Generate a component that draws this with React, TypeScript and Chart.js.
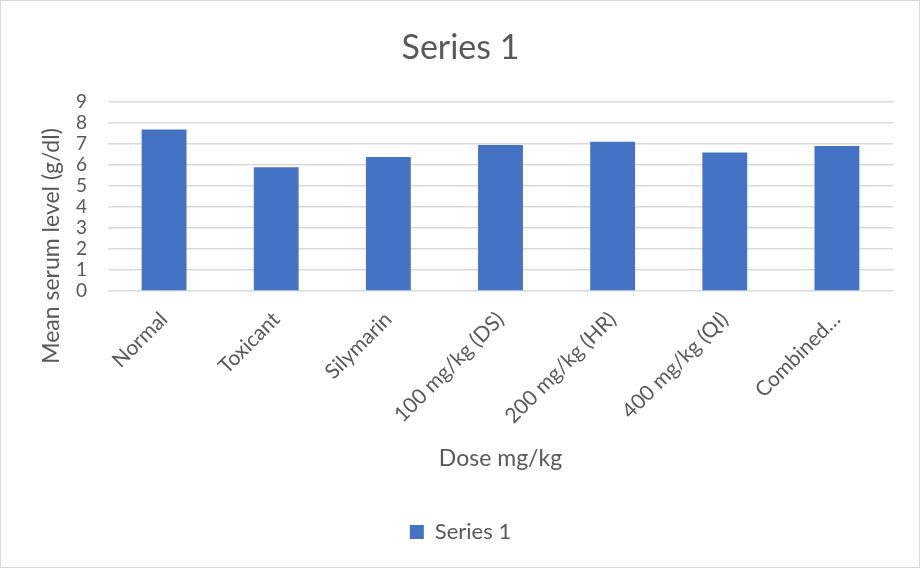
import React, { useEffect, useRef } from "react";
import { Chart, registerables } from "chart.js";

Chart.register(...registerables);

const categories = [
  "Normal",
  "Toxicant",
  "Silymarin",
  "100 mg/kg (DS)",
  "200 mg/kg (HR)",
  "400 mg/kg (QI)",
  "Combined…",
];
const seriesName = "Series 1";
const seriesValues = [7.68, 5.89, 6.37, 6.94, 7.1, 6.59, 6.9];
const yTicks = [0, 1, 2, 3, 4, 5, 6, 7, 8, 9];
const chartTitle = "Series 1";
const xTitle = "Dose mg/kg";
const yTitle = "Mean serum level (g/dl)";

const TEXT = "#595959";
const GRID = "#d9d9d9";
const BAR = "#4472c4";
const FONT = "Lato, 'Open Sans', sans-serif";

// Frame around the whole chart and the rotated y-axis title.
const decorations = {
  id: "decorations",
  beforeDraw(chart: Chart) {
    const { ctx, width, height } = chart;
    ctx.save();
    ctx.fillStyle = "#ffffff";
    ctx.fillRect(0, 0, width, height);
    ctx.strokeStyle = GRID;
    ctx.lineWidth = 1;
    ctx.strokeRect(0.5, 0.5, width - 2, height - 2);
    ctx.restore();
  },
  afterDraw(chart: Chart) {
    const { ctx } = chart;
    ctx.save();
    ctx.translate(52, 246);
    ctx.rotate(-Math.PI / 2);
    ctx.fillStyle = TEXT;
    ctx.font = `23px ${FONT}`;
    ctx.textAlign = "center";
    ctx.textBaseline = "middle";
    ctx.fillText(yTitle, 0, 0);
    ctx.restore();
  },
};

export default function App() {
  const canvasRef = useRef<HTMLCanvasElement | null>(null);

  useEffect(() => {
    document.body.style.margin = "0";
    const canvas = canvasRef.current;
    if (!canvas) return;
    const chart = new Chart(canvas, {
      type: "bar",
      data: {
        labels: categories,
        datasets: [
          {
            label: seriesName,
            data: seriesValues,
            backgroundColor: BAR,
            borderWidth: 0,
            barPercentage: 0.4,
            categoryPercentage: 1,
          },
        ],
      },
      options: {
        animation: false,
        responsive: true,
        maintainAspectRatio: false,
        layout: { padding: { top: 0, left: 0, right: 0, bottom: 16 } },
        plugins: {
          title: {
            display: true,
            text: chartTitle,
            color: TEXT,
            font: { family: FONT, size: 34, weight: "normal", lineHeight: 1.2 },
            padding: { top: 28, bottom: 33 },
          },
          legend: {
            display: true,
            position: "bottom",
            labels: {
              color: TEXT,
              font: { family: FONT, size: 22 },
              boxWidth: 14,
              boxHeight: 14,
              padding: 10,
            },
          },
          tooltip: { enabled: false },
        },
        scales: {
          x: {
            grid: { display: false },
            border: { display: false },
            ticks: {
              color: TEXT,
              font: { family: FONT, size: 21 },
              minRotation: 45,
              maxRotation: 45,
              autoSkip: false,
              padding: 8,
            },
            title: {
              display: true,
              text: xTitle,
              color: TEXT,
              font: { family: FONT, size: 23, lineHeight: 1.2 },
              padding: { top: 0, bottom: 39 },
            },
            afterFit(scale: any) {
              scale.height = 220;
            },
          },
          y: {
            min: 0,
            max: 9,
            afterBuildTicks(scale: any) {
              scale.ticks = yTicks.map((v) => ({ value: v }));
            },
            grid: { color: GRID, lineWidth: 1.5, drawTicks: false },
            border: { display: false },
            ticks: {
              color: TEXT,
              font: { family: FONT, size: 19 },
              padding: 21,
              autoSkip: false,
            },
            afterFit(scale: any) {
              scale.width = 108;
            },
          },
          // empty right-hand gutter so the plot ends short of the frame
          gutter: {
            type: "linear",
            position: "right",
            display: true,
            grid: { display: false },
            border: { display: false },
            ticks: { display: false },
            afterFit(scale: any) {
              scale.width = 28;
            },
          },
        },
      },
      plugins: [decorations],
    });
    return () => chart.destroy();
  }, []);

  return (
    <div style={{ position: "fixed", left: 0, top: 0, width: 921, height: 569 }}>
      <canvas ref={canvasRef} />
    </div>
  );
}
